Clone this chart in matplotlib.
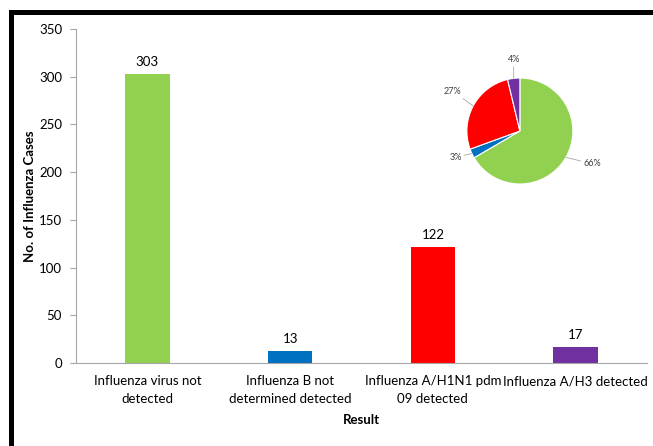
import matplotlib.pyplot as plt
import numpy as np
from matplotlib.lines import Line2D

categories = ['Influenza virus not\ndetected', 'Influenza B not\ndetermined detected',
              'Influenza A/H1N1 pdm\n09 detected', 'Influenza A/H3 detected']
cases = [303, 13, 122, 17]
pie_pct = [66, 3, 27, 4]
colors = ['#92D050', '#0070C0', '#FF0000', '#7030A0']
y_ticks = [0, 50, 100, 150, 200, 250, 300, 350]

plt.rcParams['font.family'] = ['Lato', 'DejaVu Sans']

fig = plt.figure(figsize=(6.53, 4.46), dpi=100)
ax = fig.add_axes([0.1164, 0.1861, 0.8744, 0.7489])

x = np.arange(len(cases))
bars = ax.bar(x, cases, width=0.31, color=colors)
for b, v in zip(bars, cases):
    ax.annotate(str(v), (b.get_x() + b.get_width() / 2, v), xytext=(0, 4),
                textcoords='offset points', ha='center', va='bottom', fontsize=9.5)

ax.set_xlim(-0.5, len(cases) - 0.5)
ax.set_ylim(0, 350)
ax.set_yticks(y_ticks)
ax.set_xticks(x)
ax.set_xticklabels(categories, fontsize=9.5, linespacing=1.6)
ax.tick_params(axis='x', length=0, pad=9)
ax.tick_params(axis='y', labelsize=9.5, length=4, color='#a6a6a6', pad=6)
for s in ['top', 'right']:
    ax.spines[s].set_visible(False)
for s in ['left', 'bottom']:
    ax.spines[s].set_color('#a6a6a6')
ax.set_ylabel('No. of Influenza Cases', fontsize=9.5, fontweight='bold', va='center')
ax.yaxis.set_label_coords(-0.081, 0.5)
ax.set_xlabel('Result', fontsize=9.5, fontweight='bold', va='center')
ax.xaxis.set_label_coords(0.5, -0.171)

# small pie of the same counts
pax = fig.add_axes([0.715, 0.5874, 0.1623, 0.2377])
wedges, _ = pax.pie(cases, colors=colors, startangle=90, counterclock=False,
                    wedgeprops=dict(edgecolor='white', linewidth=0.8))
for w, p in zip(wedges, pie_pct):
    ang = np.deg2rad((w.theta1 + w.theta2) / 2)
    ex, ey = np.cos(ang), np.sin(ang)
    if ey > 0.9:
        tx, ty, ha = ex, 1.35, 'center'
    elif ex < 0:
        tx, ty, ha = -1.1, ey * 1.05 + (0.25 if ey > 0 else -0.05), 'right'
    else:
        tx, ty, ha = 1.2, ey - 0.12, 'left'
    pax.annotate('%d%%' % p, (ex, ey), xytext=(tx, ty),
                 ha=ha, va='center', fontsize=6.5, color='#404040',
                 arrowprops=dict(arrowstyle='-', color='#a6a6a6', lw=0.6,
                                 shrinkA=0, shrinkB=0))
pax.set_xlim(-1, 1)
pax.set_ylim(-1, 1)
pax.set_aspect('equal')

# black frame on the left and top
fig.add_artist(Line2D([0.0161, 1.0], [0.972, 0.972], color='black', lw=3.6,
                      transform=fig.transFigure, solid_capstyle='butt'))
fig.add_artist(Line2D([0.0161, 0.0161], [0.0, 0.972], color='black', lw=3.6,
                      transform=fig.transFigure, solid_capstyle='projecting'))

fig.savefig('out.png', dpi=100)
